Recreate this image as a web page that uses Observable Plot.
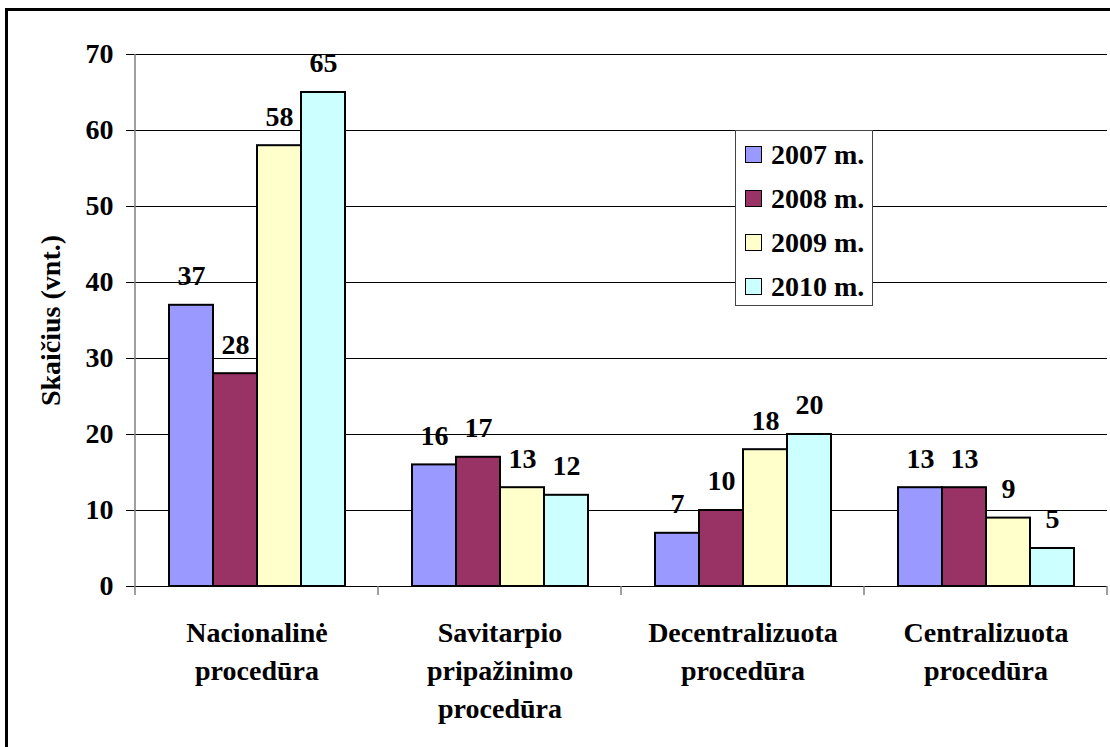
<!DOCTYPE html>
<html><head><meta charset="utf-8">
<script src="https://cdn.jsdelivr.net/npm/d3@7"></script>
<script src="https://cdn.jsdelivr.net/npm/@observablehq/plot@0.6"></script>
<style>
body{margin:0;background:#fff;font-family:'Liberation Serif';}
#wrap{position:relative;width:1110px;height:747px;overflow:hidden;font-family:'Liberation Serif';font-weight:bold;}
#frame{position:absolute;left:5px;top:8px;width:1300px;height:900px;border:3px solid #000;box-sizing:border-box;pointer-events:none;}
#legend{position:absolute;left:735px;top:130px;width:138px;height:176px;border:1px solid #444;background:#fff;box-sizing:border-box;padding-top:2px;}
.row{position:relative;height:44px;}
.sw{position:absolute;left:9px;top:13px;width:17px;height:17px;border:1.5px solid #000;box-sizing:border-box;}
.lb{position:absolute;left:35px;top:0;line-height:44px;font-size:28px;color:#000;white-space:nowrap;font-family:'Liberation Serif';font-weight:bold;}
</style></head>
<body>
<div id="wrap"><div id="chart"></div><div id="frame"></div><div id="legend"></div></div>
<script>
const categories = ["Nacionalinė\nprocedūra", "Savitarpio\npripažinimo\nprocedūra", "Decentralizuota\nprocedūra", "Centralizuota\nprocedūra"];
const years = ["2007 m.", "2008 m.", "2009 m.", "2010 m."];
const v2007 = [37, 16, 7, 13];
const v2008 = [28, 17, 10, 13];
const v2009 = [58, 13, 18, 9];
const v2010 = [65, 12, 20, 5];
const colors = ["#9999FF", "#993366", "#FFFFCC", "#CCFFFF"];
const yTicks = [0, 10, 20, 30, 40, 50, 60, 70];

const series = [v2007, v2008, v2009, v2010];
const rows = [];
categories.forEach((c, i) => series.forEach((s, j) => rows.push({cat: c, year: years[j], value: s[i]})));

const serif = "'Liberation Serif', serif";
const chart = Plot.plot({
  width: 1110, height: 747,
  marginLeft: 133, marginRight: 2, marginTop: 54, marginBottom: 161,
  style: {fontFamily: serif, fontWeight: "bold", color: "#000", background: "transparent"},
  fx: {domain: categories, padding: 0, label: null},
  x: {domain: years, paddingInner: 0, paddingOuter: 0.74, axis: null},
  y: {domain: [0, 70], ticks: yTicks},
  color: {domain: years, range: colors},
  marks: [
    Plot.gridY(yTicks, {stroke: "#000", strokeOpacity: 1, strokeWidth: 1}),
    Plot.barY(rows, {fx: "cat", x: "year", y: "value", fill: "year", stroke: "#000", strokeWidth: 2}),
    Plot.text(rows, {fx: "cat", x: "year", y: "value", text: d => String(d.value), dy: -29, fontSize: 28, fontWeight: "bold", fontFamily: serif, fill: "#000"}),
    Plot.axisY(yTicks, {tickSize: 9, tickPadding: 13, fontSize: 28, fontFamily: serif, label: "Skaičius (vnt.)", labelAnchor: "center", labelOffset: 95, labelArrow: false}),
    Plot.axisFx({anchor: "bottom", tickSize: 0, tickPadding: 28, fontSize: 28, fontFamily: serif, lineHeight: 1.36, label: null})
  ]
});
document.getElementById("chart").appendChild(chart);
d3.select(chart).style("font-family", serif).style("font-weight", "bold");

// axis line and category boundary ticks, positioned with the plot's own scales
const fxS = chart.scale("fx"), yS = chart.scale("y");
const y0 = yS.apply(0), yTop = yS.apply(70);
const bounds = categories.map(c => fxS.apply(c)).concat([fxS.apply(categories[categories.length - 1]) + fxS.bandwidth]);
const g = d3.select(chart).append("g").attr("stroke", "#808080").attr("stroke-width", 1.5);
g.append("line").attr("x1", bounds[0]).attr("x2", bounds[0]).attr("y1", yTop).attr("y2", y0);
bounds.forEach(b => g.append("line").attr("x1", b).attr("x2", b).attr("y1", y0).attr("y2", y0 + 9));

// legend
const lg = d3.select("#legend");
years.forEach((y, i) => {
  const r = lg.append("div").attr("class", "row");
  r.append("div").attr("class", "sw").style("background", colors[i]);
  r.append("div").attr("class", "lb").text(y);
});
</script>
</body></html>
